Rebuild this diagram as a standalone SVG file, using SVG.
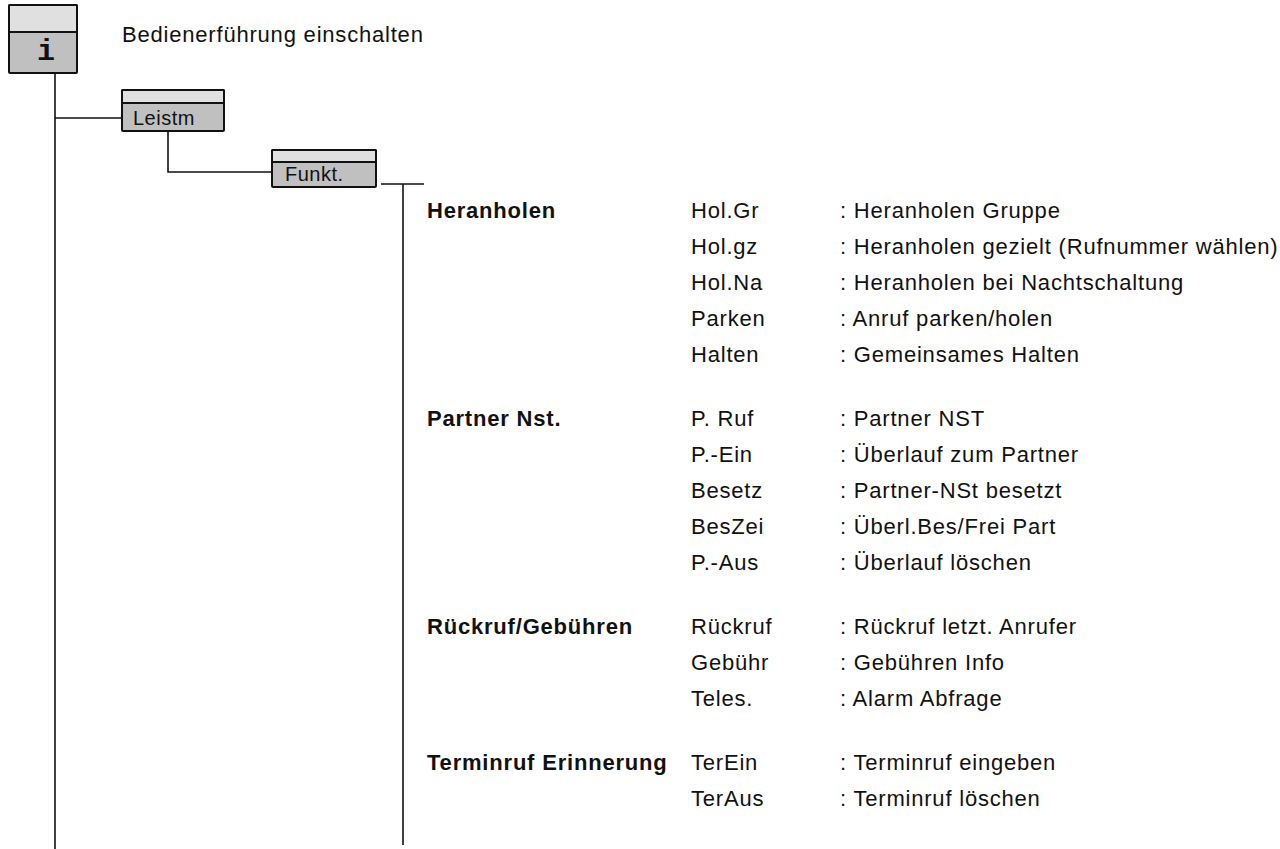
<svg xmlns="http://www.w3.org/2000/svg" width="1280" height="849" viewBox="0 0 1280 849">
<style>
.t{font-family:"Liberation Sans",Arial,sans-serif;font-size:22px;letter-spacing:0.8px;fill:#111}
.h{font-family:"Liberation Sans",Arial,sans-serif;font-size:22px;font-weight:bold;letter-spacing:0.8px;fill:#111}
.k{font-family:"Liberation Sans",Arial,sans-serif;font-size:20px;letter-spacing:0.5px;fill:#111}
.top{fill:#e0e0e0;stroke:#111;stroke-width:2}
.bot{fill:#c0c0c0;stroke:#111;stroke-width:2}
.ln{stroke:#111;stroke-width:1.6;fill:none}
</style>
<rect width="1280" height="849" fill="#fff"/>
<g id="connectors">
<path class="ln" d="M55 73V849"/>
<path class="ln" d="M55 118H122"/>
<path class="ln" d="M168 131V172H272"/>
<path class="ln" d="M381 184H424"/>
<path class="ln" d="M403 184V845"/>
</g>
<g id="node-i">
<rect class="bot" x="9" y="5" width="68" height="68" rx="1"/>
<rect class="top" x="9" y="5" width="68" height="27" rx="1"/>
<text x="46" y="60" text-anchor="middle" style="font-family:'Liberation Mono','DejaVu Sans Mono',monospace;font-size:30px;font-weight:bold;fill:#111">i</text>
</g>
<text class="t" x="122" y="42">Bedienerführung einschalten</text>
<g id="node-leistm">
<rect class="bot" x="122" y="90" width="102" height="41" rx="1"/>
<rect class="top" x="122" y="90" width="102" height="13" rx="1"/>
<text class="k" x="133" y="125">Leistm</text>
</g>
<g id="node-funkt">
<rect class="bot" x="272" y="150" width="104" height="37" rx="1"/>
<rect class="top" x="272" y="150" width="104" height="12" rx="1"/>
<text class="k" x="285" y="181">Funkt.</text>
</g>
<g id="list">
<text class="h" x="427" y="218">Heranholen</text>
<text class="t" x="691" y="218">Hol.Gr</text><text class="t" x="840" y="218">: Heranholen Gruppe</text>
<text class="t" x="691" y="254">Hol.gz</text><text class="t" x="840" y="254">: Heranholen gezielt (Rufnummer wählen)</text>
<text class="t" x="691" y="290">Hol.Na</text><text class="t" x="840" y="290">: Heranholen bei Nachtschaltung</text>
<text class="t" x="691" y="326">Parken</text><text class="t" x="840" y="326">: Anruf parken/holen</text>
<text class="t" x="691" y="362">Halten</text><text class="t" x="840" y="362">: Gemeinsames Halten</text>
<text class="h" x="427" y="426">Partner Nst.</text>
<text class="t" x="691" y="426">P. Ruf</text><text class="t" x="840" y="426">: Partner NST</text>
<text class="t" x="691" y="462">P.-Ein</text><text class="t" x="840" y="462">: Überlauf zum Partner</text>
<text class="t" x="691" y="498">Besetz</text><text class="t" x="840" y="498">: Partner-NSt besetzt</text>
<text class="t" x="691" y="534">BesZei</text><text class="t" x="840" y="534">: Überl.Bes/Frei Part</text>
<text class="t" x="691" y="570">P.-Aus</text><text class="t" x="840" y="570">: Überlauf löschen</text>
<text class="h" x="427" y="634">Rückruf/Gebühren</text>
<text class="t" x="691" y="634">Rückruf</text><text class="t" x="840" y="634">: Rückruf letzt. Anrufer</text>
<text class="t" x="691" y="670">Gebühr</text><text class="t" x="840" y="670">: Gebühren Info</text>
<text class="t" x="691" y="706">Teles.</text><text class="t" x="840" y="706">: Alarm Abfrage</text>
<text class="h" x="427" y="770">Terminruf Erinnerung</text>
<text class="t" x="691" y="770">TerEin</text><text class="t" x="840" y="770">: Terminruf eingeben</text>
<text class="t" x="691" y="806">TerAus</text><text class="t" x="840" y="806">: Terminruf löschen</text>
</g>
</svg>
